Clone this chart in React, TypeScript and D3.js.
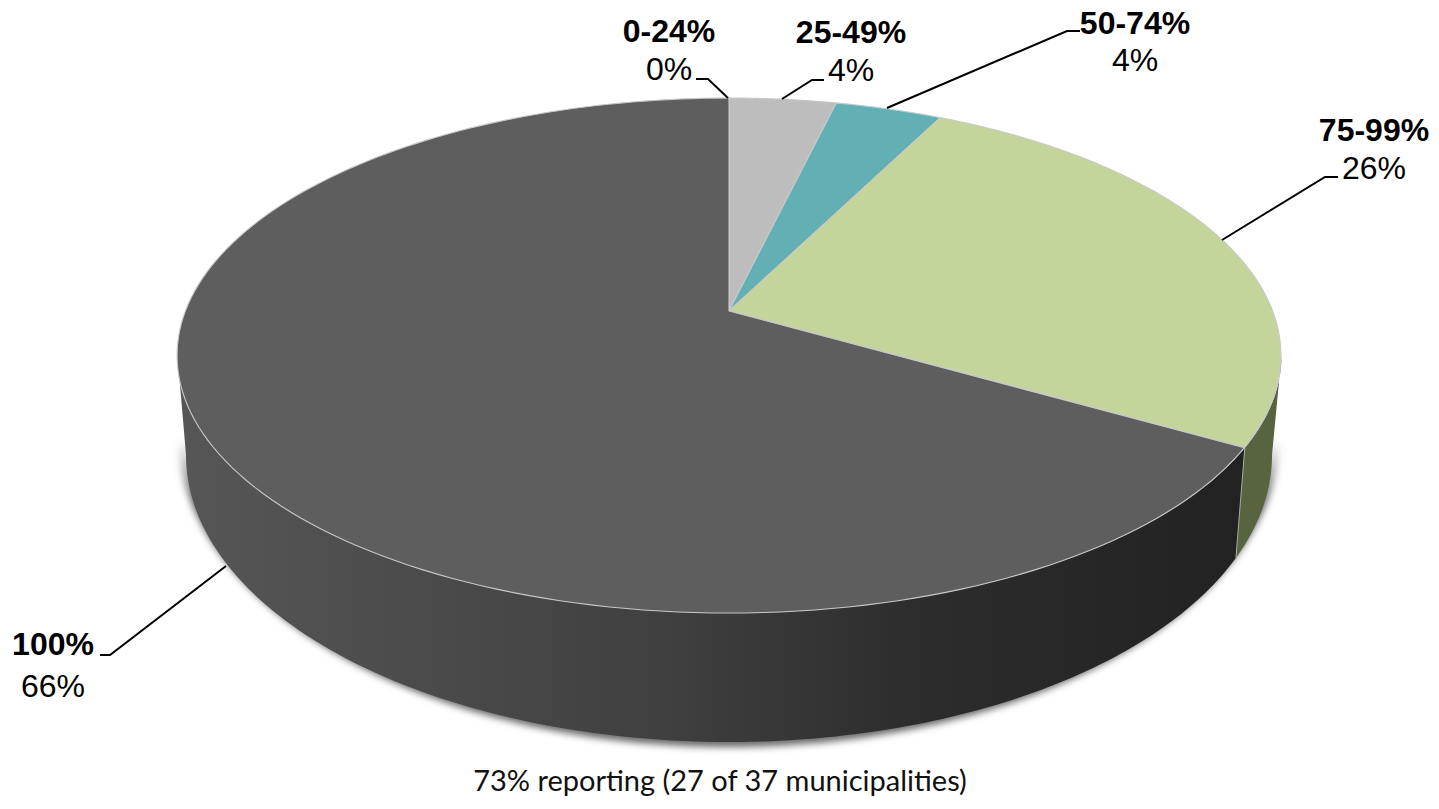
import React from "react";
import * as d3 from "d3";

// Data
const categories = ["0-24%", "25-49%", "50-74%", "75-99%", "100%"];
const shownPercents = ["0%", "4%", "4%", "26%", "66%"];
const municipalityCounts = [0, 1, 1, 7, 18];
const faceColors = ["#8c8c8c", "#bdbdbd", "#62b0b3", "#c3d59b", "#5e5e5e"];
const caption = "73% reporting (27 of 37 municipalities)";

// Layout of the annotations (not data)
const labelCenters: [number, number, number][] = [
  [669, 42, 80],
  [851, 43, 81],
  [1135, 34, 71],
  [1374, 141, 179],
  [53, 655, 697],
];
const leaders: [number, number][][] = [
  [[696, 79], [708, 79], [728, 98]],
  [[824, 80], [812, 80], [782, 99]],
  [[1080, 31], [1067, 31], [887, 108]],
  [[1338, 177], [1325, 177], [1222, 240]],
  [[100, 655], [110, 655], [226, 566]],
];

// Perspective of the pie's top face
const hub = { x: 729, y: 311 };
const topEllipse = { cx: 729.5, cy: 355.5, rx: 552, ry: 257.5 };
const botEllipse = { cx: 729, cy: 455, rx: 543, ry: 287 };
const persp = { A: 543.6, B: 249.8, p: -0.173 };

const rimPoint = (theta: number): [number, number] => {
  const u = Math.sin(theta);
  const v = -Math.cos(theta);
  const d = 1 + persp.p * v;
  return [hub.x + (persp.A * u) / d, hub.y + (persp.B * v) / d];
};
const phiOf = (theta: number) => {
  const [x, y] = rimPoint(theta);
  return Math.atan2((x - topEllipse.cx) / topEllipse.rx, -(y - topEllipse.cy) / topEllipse.ry);
};
const onEllipse = (e: typeof topEllipse, phi: number): [number, number] => [
  e.cx + e.rx * Math.sin(phi),
  e.cy - e.ry * Math.cos(phi),
];

const arcs = d3
  .pie<number>()
  .sort(null)
  .value((d) => d)(municipalityCounts);

const line = d3.line();
const sample = (a: number, b: number, n = 160) =>
  d3.range(n + 1).map((i) => a + ((b - a) * i) / n);

const facePath = (a: number, b: number) =>
  line([[hub.x, hub.y], ...sample(a, b).map(rimPoint)])! + "Z";

const sidePath = (phiA: number, phiB: number) =>
  line([
    ...sample(phiA, phiB).map((p) => onEllipse(topEllipse, p)),
    ...sample(phiB, phiA).map((p) => onEllipse(botEllipse, p)),
  ])! + "Z";

const shadowPath = () => {
  const e = { ...botEllipse, cy: botEllipse.cy - 20, rx: botEllipse.rx + 8, ry: botEllipse.ry + 25 };
  return line(sample(Math.PI / 2, (3 * Math.PI) / 2).map((p) => onEllipse(e, p)))! + "Z";
};

const gradX = d3.scaleLinear().domain([0, 1]).range([186, 1240]);
const gradStops: [number, string][] = [
  [0, "#565656"],
  [0.2, "#4c4c4c"],
  [0.45, "#404040"],
  [0.7, "#2c2c2c"],
  [1, "#222222"],
];

export default function App() {
  const greenEnd = arcs[3].endAngle;
  const phiB = phiOf(greenEnd);
  return (
    <svg
      width={1439}
      height={809}
      style={{ position: "absolute", left: 0, top: 0, background: "#fff" }}
    >
      <defs>
        <filter id="soft" x="-5%" y="-5%" width="110%" height="110%">
          <feGaussianBlur stdDeviation="3.5" />
        </filter>
        <linearGradient id="shadowFade" gradientUnits="userSpaceOnUse" x1={0} x2={0} y1={440} y2={500}>
          <stop offset={0} stopColor="#6a6a6a" stopOpacity={0} />
          <stop offset={1} stopColor="#6a6a6a" stopOpacity={1} />
        </linearGradient>
        <linearGradient
          id="sideDark"
          gradientUnits="userSpaceOnUse"
          x1={gradX(0)}
          x2={gradX(1)}
          y1={0}
          y2={0}
        >
          {gradStops.map(([o, c]) => (
            <stop key={o} offset={o} stopColor={c} />
          ))}
        </linearGradient>
      </defs>

      <path d={shadowPath()} fill="url(#shadowFade)" filter="url(#soft)" />

      <path d={sidePath(Math.PI / 2, phiB)} fill="#586340" />
      <path d={sidePath(phiB, (3 * Math.PI) / 2)} fill="url(#sideDark)" />
      <line
        x1={onEllipse(topEllipse, phiB)[0]}
        y1={onEllipse(topEllipse, phiB)[1]}
        x2={onEllipse(botEllipse, phiB)[0]}
        y2={onEllipse(botEllipse, phiB)[1]}
        stroke="#a9ad9c"
        strokeWidth={1}
      />

      {arcs.map((a, i) =>
        a.endAngle > a.startAngle ? (
          <path
            key={categories[i]}
            d={facePath(a.startAngle, a.endAngle)}
            fill={faceColors[i]}
            stroke="#c8c8c8"
            strokeWidth={1.1}
            strokeLinejoin="round"
          />
        ) : null
      )}

      {leaders.map((pts, i) => (
        <path
          key={i}
          d={line(pts)!}
          fill="none"
          stroke="#000"
          strokeWidth={2}
        />
      ))}

      <g fontFamily="'Liberation Sans', Arial, sans-serif" fontSize={32} textAnchor="middle" fill="#000">
        {categories.map((c, i) => (
          <g key={c}>
            <text x={labelCenters[i][0]} y={labelCenters[i][1]} fontWeight="bold">
              {c}
            </text>
            <text x={labelCenters[i][0]} y={labelCenters[i][2]}>
              {shownPercents[i]}
            </text>
          </g>
        ))}
      </g>

      <text
        x={720}
        y={791}
        textAnchor="middle"
        fontFamily="Lato, 'Open Sans', sans-serif"
        fontSize={29}
        fill="#111"
      >
        {caption}
      </text>
    </svg>
  );
}
